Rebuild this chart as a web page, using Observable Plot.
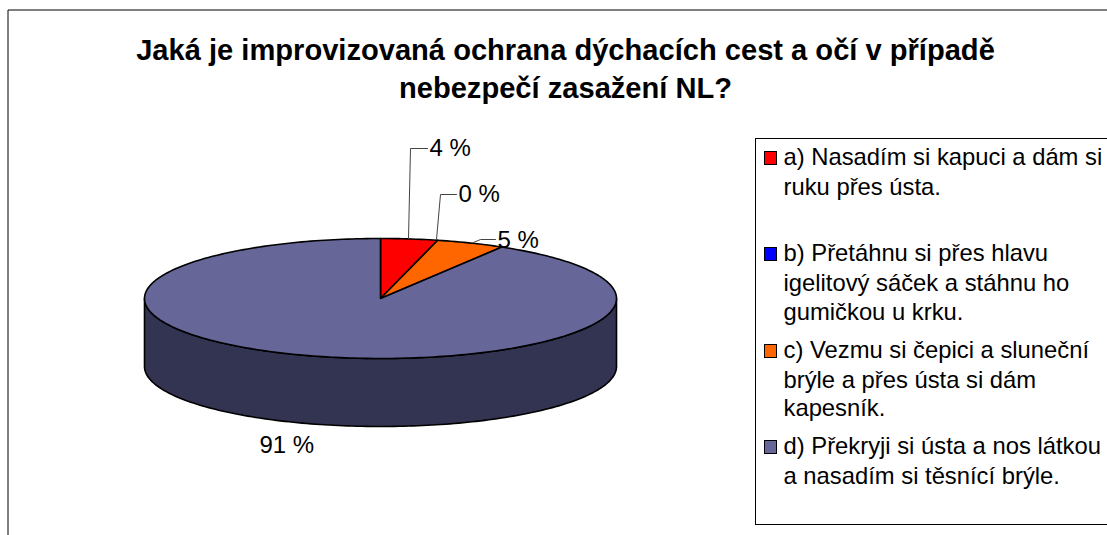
<!DOCTYPE html>
<html lang="cs">
<head>
<meta charset="utf-8">
<script src="https://cdn.jsdelivr.net/npm/d3@7"></script>
<script src="https://cdn.jsdelivr.net/npm/@observablehq/plot@0.6"></script>
<style>html,body{margin:0;padding:0;background:#fff;overflow:hidden}</style>
</head>
<body>
<div id="chart"></div>
<script>
const titleLines = ["Jaká je improvizovaná ochrana dýchacích cest a očí v případě", "nebezpečí zasažení NL?"];
const categories = ["a", "b", "c", "d"];
const values = [3.9, 0, 4.7, 91.4];
const valueLabels = ["4 %", "0 %", "5 %", "91 %"];
const colors = ["#ff0000", "#0000ff", "#ff6600", "#666699"];
const sideColor = "#333352";
const legendEntries = [
  ["a) Nasadím si kapuci a dám si", "ruku přes ústa."],
  ["b) Přetáhnu si přes hlavu", "igelitový sáček a stáhnu ho", "gumičkou u krku."],
  ["c) Vezmu si čepici a sluneční", "brýle a přes ústa si dám", "kapesník."],
  ["d) Překryji si ústa a nos látkou", "a nasadím si těsnící brýle."]
];

// layout of the picture
const W = 1107, H = 535;
const cx = 380, cy = 298, rx = 236, ry = 60, depth = 68;
const total = d3.sum(values);
const px = (t, dy = 0) => ({x: cx + rx * Math.sin(t), y: cy - ry * Math.cos(t) + dy});
const arc = (a, b, dy = 0) => {
  const n = Math.max(1, Math.ceil(Math.abs(b - a) / 0.02));
  return d3.range(n + 1).map(i => px(a + (b - a) * i / n, dy));
};
let acc = 0;
const slices = categories.map((c, i) => {
  const a0 = acc / total * 2 * Math.PI;
  acc += values[i];
  return {c, a0, a1: acc / total * 2 * Math.PI, v: values[i]};
});
const topFaces = slices.filter(s => s.v > 0).map(s => [{x: cx, y: cy}, ...arc(s.a0, s.a1)].map(p => ({...p, c: s.c})));
const sides = slices.flatMap(s => {
  const a = Math.max(s.a0, Math.PI / 2), b = Math.min(s.a1, 3 * Math.PI / 2);
  return b > a ? [[...arc(a, b), ...arc(b, a, depth)]] : [];
});

// data-label anchors and leader lines
const labelPos = [{x: 429, y: 148}, {x: 458, y: 194}, {x: 497, y: 240}, {x: 259, y: 445}];
const leaders = [
  [{x: 408, y: 238}, {x: 410, y: 148}, {x: 427, y: 148}],
  [{x: 436, y: 239}, {x: 440, y: 194}, {x: 456, y: 194}],
  [{x: 473, y: 242}, {x: 480, y: 239}, {x: 495, y: 239}]
];

// legend rows
const rowY = [[157, 187], [253, 283, 312], [350, 380, 408], [446, 476]];
const swatchY = [158, 254, 351, 447];
const legendText = legendEntries.flatMap((ls, i) => ls.map((t, j) => ({t, x: 783, y: rowY[i][j]})));
const swatches = categories.map((c, i) => ({c, y: swatchY[i]}));
const font = "Liberation Sans, Arial, sans-serif";

const plot = Plot.plot({
  width: W, height: H,
  margin: 0,
  x: {axis: null, domain: [0, W], range: [0, W]},
  y: {axis: null, domain: [0, H], range: [0, H]},
  color: {domain: categories, range: colors},
  style: {fontFamily: font, background: "#fff"},
  marks: [
    // chart area border
    Plot.line([{x: 7.5, y: H + 5}, {x: 7.5, y: 9.5}, {x: W + 5, y: 9.5}], {x: "x", y: "y", stroke: "#000", strokeWidth: 1}),
    // title
    Plot.text(titleLines, {x: 565, y: (d, i) => 50 + 38 * i, text: d => d, fontSize: 29.1, fontWeight: "bold", fill: "#000", lineAnchor: "middle"}),
    // pie sides
    ...sides.map(p => Plot.line(p, {x: "x", y: "y", curve: "linear-closed", fill: sideColor, stroke: "#000", strokeWidth: 1.6})),
    // pie top
    ...topFaces.map(p => Plot.line(p, {x: "x", y: "y", z: "c", curve: "linear-closed", fill: "c", stroke: "#000", strokeWidth: 1.6})),
    // leader lines
    ...leaders.map(p => Plot.line(p, {x: "x", y: "y", stroke: "#444", strokeWidth: 1})),
    // value labels
    Plot.text(valueLabels, {x: (d, i) => labelPos[i].x, y: (d, i) => labelPos[i].y, text: d => d, textAnchor: "start", lineAnchor: "middle", fontSize: 24, fill: "#000"}),
    // legend
    Plot.rect([{}], {x1: () => 755.5, x2: () => W + 5, y1: () => 138.5, y2: () => 524.5, fill: "#fff", stroke: "#000", strokeWidth: 1}),
    Plot.rect(swatches, {x1: () => 764.5, x2: () => 776.5, y1: d => d.y - 6.5, y2: d => d.y + 6.5, fill: "c", stroke: "#000", strokeWidth: 1}),
    Plot.text(legendText, {x: "x", y: "y", text: "t", textAnchor: "start", lineAnchor: "middle", fontSize: 23.8, fill: "#000"})
  ]
});
document.getElementById("chart").append(plot);
</script>
</body>
</html>
